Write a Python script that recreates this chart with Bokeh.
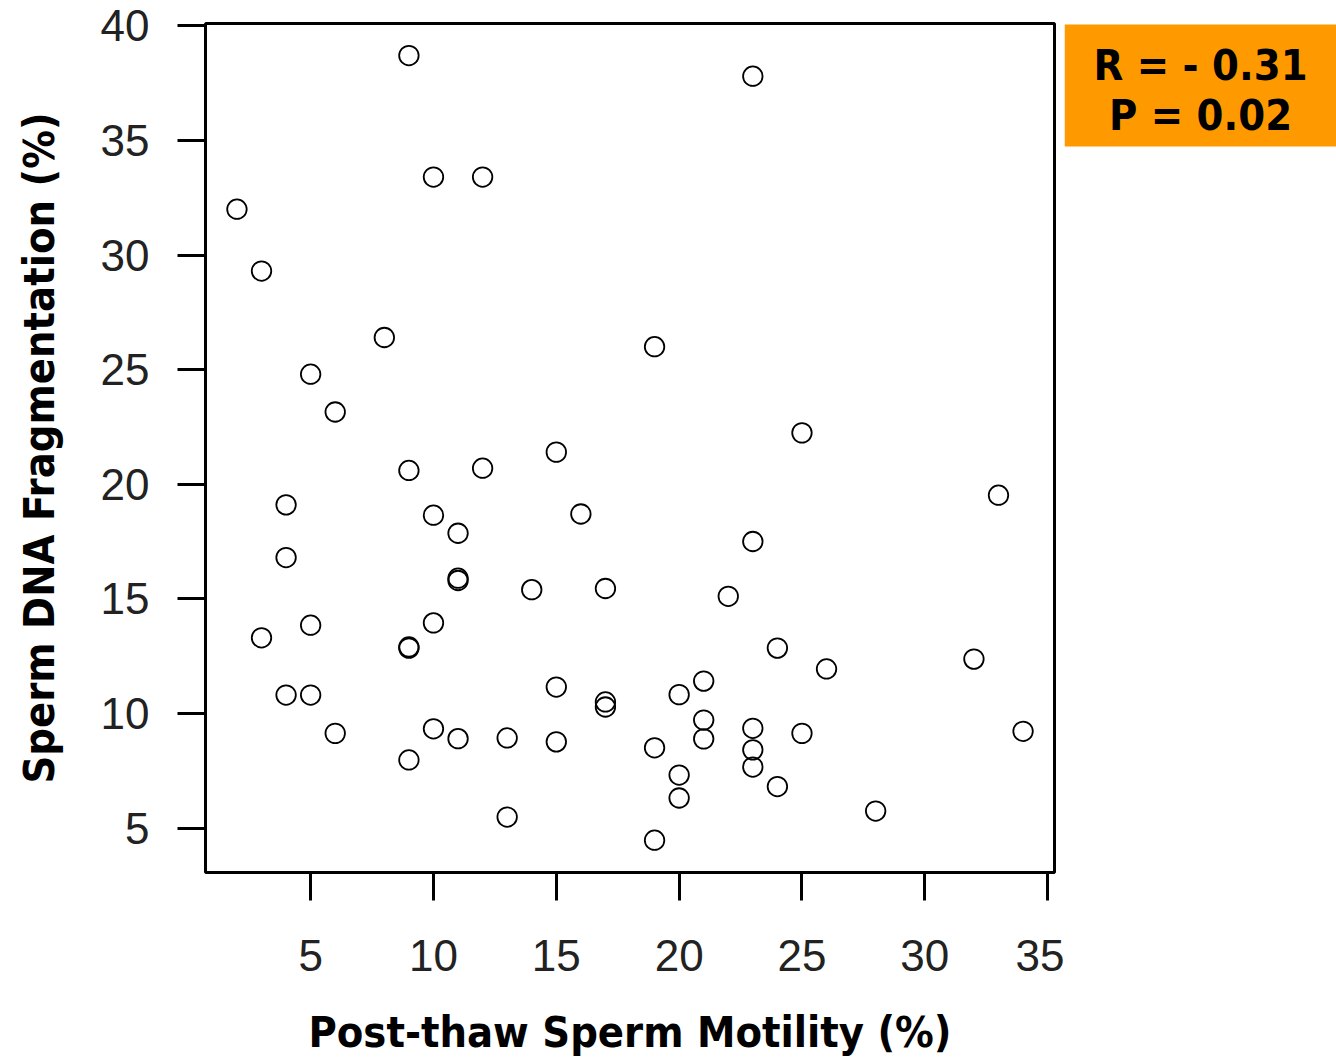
from bokeh.plotting import figure
from bokeh.models import FixedTicker
from bokeh.layouts import row
from bokeh.core.properties import value
from bokeh.embed import file_html
from bokeh.resources import INLINE

# Post-thaw sperm motility (%)
motility = [2, 3, 3, 4, 4, 4, 5, 5, 5, 6, 6, 8,
            9, 9, 9, 9, 9, 10, 10, 10, 10, 11, 11, 11, 11,
            12, 12, 13, 13, 14, 15, 15, 15, 16, 17, 17, 17,
            19, 19, 19, 20, 20, 20, 21, 21, 21, 22,
            23, 23, 23, 23, 23, 24, 24, 25, 25, 26, 28, 32, 33, 34]
# Sperm DNA fragmentation (%)
fragmentation = [32.0, 29.3, 13.3, 19.1, 16.8, 10.8, 24.8, 13.85, 10.8, 23.15, 9.13, 26.4,
                 38.7, 20.6, 12.9, 12.85, 7.97, 33.4, 18.65, 13.95, 9.33, 17.86, 15.9, 15.8, 8.9,
                 33.4, 20.7, 8.93, 5.48, 15.4, 21.4, 11.15, 8.76, 18.7, 15.45, 10.5, 10.28,
                 26.0, 8.5, 4.47, 10.82, 7.31, 6.31, 11.41, 9.71, 8.89, 15.11,
                 37.8, 17.5, 9.35, 8.41, 7.66, 12.85, 6.81, 22.24, 9.13, 11.94, 5.74, 12.37, 19.52, 9.22]

x_ticks = [5, 10, 15, 20, 25, 30, 35]
y_ticks = [5, 10, 15, 20, 25, 30, 35, 40]

stat_lines = ["R = - 0.31", "P = 0.02"]

H = 1059
TOP, BOTTOM = 23, 187

p = figure(width=1064, height=H, output_backend="svg", toolbar_location=None,
           x_range=(0.72, 35.28), y_range=(3.06, 40.1),
           min_border_left=205, min_border_right=10, min_border_top=TOP, min_border_bottom=BOTTOM)
p.background_fill_color = "white"
p.border_fill_color = "white"
p.grid.visible = False
p.outline_line_color = "black"
p.outline_line_width = 3

p.scatter(motility, fragmentation, marker="circle", size=19.5,
          fill_color=None, line_color="black", line_width=1.8)

for ax, ticks in ((p.xaxis[0], x_ticks), (p.yaxis[0], y_ticks)):
    ax.ticker = FixedTicker(ticks=ticks)
    ax.axis_line_color = None
    ax.major_tick_line_color = "black"
    ax.major_tick_line_width = 3
    ax.major_tick_out = 28
    ax.major_tick_in = 0
    ax.minor_tick_line_color = None
    ax.major_label_text_font = "Liberation Sans"
    ax.major_label_text_font_size = "44px"
    ax.major_label_text_color = "#222222"
    ax.axis_label_text_font = "DejaVu Sans Condensed"
    ax.axis_label_text_font_style = "bold"
    ax.axis_label_text_font_size = "43px"
    ax.axis_label_text_color = "black"

p.xaxis[0].axis_label = "Post-thaw Sperm Motility (%)"
p.yaxis[0].axis_label = "Sperm DNA Fragmentation (%)"
p.xaxis[0].major_label_standoff = 39
p.xaxis[0].axis_label_standoff = 33
p.yaxis[0].major_label_standoff = 28
p.yaxis[0].axis_label_standoff = 34
p.yaxis[0].major_label_orientation = "horizontal"

# statistics box: side panel whose frame is aligned with the main frame;
# its y coordinates are page pixels measured from the top
q = figure(width=272, height=H, output_backend="svg", toolbar_location=None,
           x_range=(0, 272), y_range=(H - BOTTOM, TOP),
           min_border_left=0, min_border_right=0, min_border_top=TOP, min_border_bottom=BOTTOM)
q.axis.visible = False
q.grid.visible = False
q.outline_line_color = None
q.background_fill_color = "white"
q.border_fill_color = "white"
q.quad(left=[0], right=[272], top=[24], bottom=[146], fill_color="#FF9900", line_color=None)
q.text([136, 136], [64, 114], text=stat_lines, text_align="center", text_baseline="middle",
       text_font=value("DejaVu Sans Condensed"), text_font_style="bold", text_font_size="43px",
       text_color="black")

layout = row(p, q)
open("out.html", "w").write(file_html(layout, INLINE))
